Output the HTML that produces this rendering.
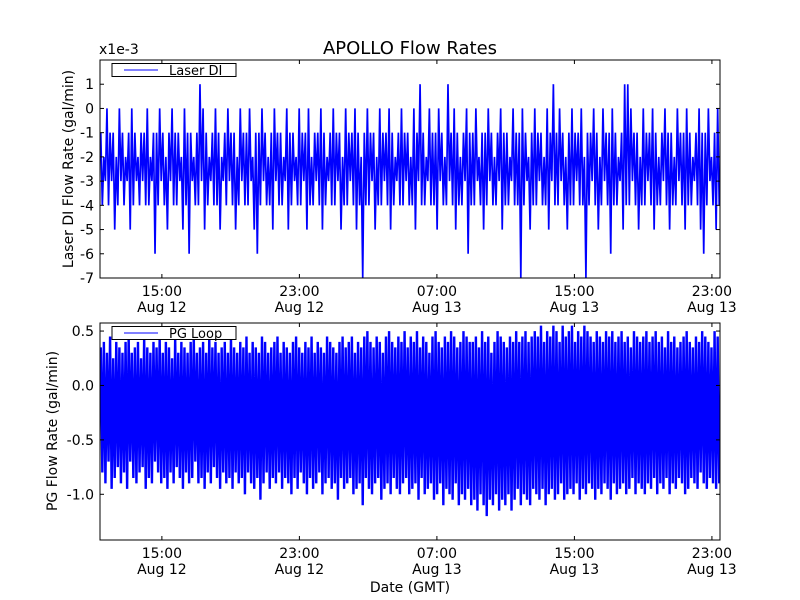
<!DOCTYPE html>
<html><head><meta charset="utf-8"><style>
html,body{margin:0;padding:0;background:#fff;}
svg{display:block;font-family:"DejaVu Sans","Liberation Sans",sans-serif;}
</style></head><body>
<svg id="c" width="800" height="600" viewBox="0 0 800 600">
<rect width="800" height="600" fill="#fff"/>
<text x="410" y="54" font-size="18" text-anchor="middle">APOLLO Flow Rates</text>
<text x="99" y="54" font-size="14">x1e-3</text>
<text transform="translate(73,169) rotate(-90)" font-size="14" text-anchor="middle">Laser DI Flow Rate (gal/min)</text>
<text transform="translate(57,431) rotate(-90)" font-size="14" text-anchor="middle">PG Flow Rate (gal/min)</text>
<text x="410" y="592" font-size="14" text-anchor="middle">Date (GMT)</text>
<g id="top"></g>
<g id="bot"></g>
</svg>
<script>
const topHigh = [
-1,-2,0,-1,-1,-2,0,-1,-2,-1,0,-1,-2,-1,-1,0,-2,-1,-1,0,
-1,-2,-1,0,-1,-1,-2,0,-1,-1,-2,-1,1,0,-1,-2,-1,0,-1,-2,
-1,0,-1,-1,-2,0,-1,-1,0,-2,-1,-1,0,-1,-2,-1,0,-1,-1,-2,
0,-1,-1,-2,0,-1,-1,0,-2,-1,-1,0,-1,-2,-1,0,-1,-1,-2,0,
-1,-1,0,-1,-2,-1,0,-1,-1,-2,0,-1,-1,0,-1,-2,-1,0,-1,-1,
-2,0,-1,1,-1,-2,0,-1,-1,0,-1,-2,1,-1,0,-1,-2,-1,0,-1,
-1,0,-2,-1,-1,0,-1,-2,-1,0,-1,-1,-2,0,-1,-1,0,-1,-2,-1,
0,-1,-1,-2,0,-1,1,-1,0,-1,-2,-1,0,-1,-1,0,-2,-1,-1,0,
-1,-2,0,-1,-1,0,-1,-2,-1,1,1,0,-1,-1,-2,0,-1,-1,0,-1,
-2,-1,0,-1,-1,-2,0,-1,-1,0,-1,-2,-1,0,-1,-1,0,-2,-1,0];
const topLow = [
-4,-3,-4,-3,-5,-4,-3,-4,-3,-5,-4,-3,-4,-3,-4,-4,-3,-6,-4,-3,
-4,-5,-3,-4,-4,-3,-5,-4,-6,-3,-4,-4,-3,-5,-4,-3,-4,-4,-5,-3,
-4,-3,-4,-5,-4,-3,-4,-4,-3,-5,-6,-4,-3,-4,-4,-5,-3,-4,-4,-3,
-5,-4,-3,-4,-4,-3,-5,-4,-4,-3,-4,-5,-4,-3,-4,-4,-3,-5,-4,-4,
-3,-4,-5,-4,-7,-4,-4,-3,-5,-4,-4,-3,-4,-5,-4,-3,-4,-4,-3,-4,
-4,-5,-3,-4,-4,-3,-4,-4,-5,-3,-4,-4,-3,-4,-5,-4,-4,-3,-6,-4,
-4,-3,-4,-5,-4,-3,-4,-4,-3,-5,-4,-4,-3,-4,-4,-7,-4,-3,-5,-4,
-4,-3,-4,-4,-5,-3,-4,-4,-3,-4,-5,-4,-4,-3,-4,-4,-7,-4,-3,-4,
-5,-4,-3,-4,-6,-4,-4,-3,-5,-4,-4,-3,-4,-5,-4,-4,-3,-4,-5,-4,
-4,-3,-4,-5,-4,-4,-3,-4,-5,-4,-4,-3,-4,-5,-6,-4,-3,-4,-5,-4];
const botHigh = [
0.35,0.4,0.3,0.45,0.25,0.4,0.35,0.3,0.4,0.45,0.3,0.35,0.4,0.25,0.45,0.35,0.3,0.4,0.35,0.45,
0.3,0.4,0.35,0.25,0.45,0.3,0.4,0.35,0.3,0.4,0.45,0.3,0.35,0.4,0.3,0.45,0.35,0.4,0.3,0.35,
0.4,0.3,0.45,0.35,0.3,0.4,0.35,0.45,0.3,0.4,0.35,0.3,0.45,0.4,0.3,0.35,0.4,0.45,0.3,0.4,
0.35,0.3,0.4,0.45,0.35,0.3,0.4,0.35,0.45,0.3,0.4,0.35,0.3,0.45,0.4,0.35,0.3,0.4,0.45,0.35,
0.4,0.45,0.3,0.4,0.35,0.45,0.5,0.4,0.35,0.45,0.4,0.3,0.45,0.5,0.4,0.35,0.45,0.4,0.5,0.35,
0.45,0.4,0.5,0.35,0.45,0.4,0.3,0.45,0.5,0.4,0.35,0.45,0.4,0.5,0.45,0.35,0.4,0.5,0.45,0.4,
0.4,0.45,0.35,0.5,0.4,0.45,0.3,0.4,0.5,0.45,0.4,0.35,0.45,0.4,0.5,0.4,0.45,0.5,0.4,0.45,
0.5,0.45,0.55,0.4,0.5,0.45,0.55,0.5,0.4,0.55,0.45,0.5,0.55,0.4,0.5,0.45,0.55,0.5,0.45,0.4,
0.5,0.45,0.4,0.5,0.45,0.5,0.4,0.45,0.5,0.4,0.45,0.35,0.5,0.45,0.4,0.45,0.5,0.4,0.45,0.5,
0.4,0.45,0.35,0.5,0.4,0.45,0.35,0.4,0.45,0.5,0.4,0.35,0.45,0.4,0.5,0.45,0.4,0.35,0.5,0.45];
const botLow = [
-0.8,-0.9,-0.7,-0.95,-0.85,-0.75,-0.9,-0.8,-0.95,-0.7,-0.85,-0.9,-0.8,-0.75,-0.95,-0.85,-0.9,-0.7,-0.8,-0.9,
-0.85,-0.95,-0.8,-0.9,-0.75,-0.85,-0.95,-0.8,-0.9,-0.85,-0.7,-0.9,-0.85,-0.95,-0.8,-0.9,-0.75,-0.85,-0.95,-0.8,
-0.9,-0.85,-0.95,-0.8,-0.9,-0.85,-1.0,-0.8,-0.9,-0.95,-0.85,-1.05,-0.9,-0.8,-0.95,-0.85,-0.9,-0.8,-0.95,-0.85,
-0.9,-1.0,-0.85,-0.95,-0.8,-0.9,-1.0,-0.85,-0.95,-0.9,-0.8,-1.0,-0.9,-0.85,-0.95,-0.9,-1.05,-0.85,-0.95,-0.9,
-0.85,-1.0,-0.95,-0.9,-1.1,-0.85,-0.95,-1.0,-0.9,-0.85,-1.05,-0.95,-0.9,-1.0,-0.85,-0.95,-1.0,-0.9,-0.85,-1.0,
-0.95,-0.9,-1.05,-0.85,-1.0,-0.95,-0.9,-1.05,-1.0,-0.9,-1.1,-0.95,-1.0,-1.05,-0.9,-1.1,-1.0,-1.05,-0.95,-1.1,
-1.05,-1.15,-1.0,-1.1,-1.2,-1.05,-1.1,-1.0,-1.15,-1.05,-1.1,-1.0,-1.15,-1.05,-0.95,-1.1,-1.0,-1.05,-1.1,-0.95,
-1.0,-1.05,-0.95,-1.1,-1.0,-0.95,-1.05,-1.0,-0.9,-1.05,-1.0,-0.95,-1.0,-0.9,-1.05,-0.95,-1.0,-0.9,-0.95,-1.05,
-0.95,-1.0,-0.9,-0.95,-1.05,-0.9,-1.0,-0.95,-0.9,-1.0,-0.95,-0.85,-1.0,-0.9,-0.95,-1.0,-0.9,-0.95,-0.85,-1.0,
-0.9,-0.95,-0.85,-1.0,-0.9,-0.95,-0.85,-0.9,-1.0,-0.95,-0.85,-0.9,-0.95,-0.8,-0.9,-0.95,-0.85,-0.9,-0.95,-0.9];
const topYTicks = [1,0,-1,-2,-3,-4,-5,-6,-7];
const topYTickLabels = ["1","0","-1","-2","-3","-4","-5","-6","-7"];
const botYTicks = [0.5,0.0,-0.5,-1.0];
const botYTickLabels = ["0.5","0.0","-0.5","-1.0"];
const xTickHours = [15,23,31,39,47];
const xTickTimes = ["15:00","23:00","07:00","15:00","23:00"];
const xTickDates = ["Aug 12","Aug 12","Aug 13","Aug 13","Aug 13"];
const xStartHour = 11.4, xEndHour = 47.47;

const NS="http://www.w3.org/2000/svg";
function mk(tag,attrs,parent){const e=document.createElementNS(NS,tag);for(const k in attrs)e.setAttribute(k,attrs[k]);parent.appendChild(e);return e;}
const X0=100,X1=720;
function xScale(h){return X0+(h-xStartHour)/(xEndHour-xStartHour)*(X1-X0);}

function panel(g,Y0,Y1,ymin,ymax,hi,lo,sw,yt,ytl,legend,nm){
  const ys=v=>Y1-(v-ymin)/(ymax-ymin)*(Y1-Y0);
  const n=hi.length;
  const bw=(X1-X0)/n;
  let d="";
  for(let i=0;i<n;i++){
    const h=xStartHour+(i+0.5)*(xEndHour-xStartHour)/n;
    const x=xScale(h);
    d+=(i?"L":"M")+(x-bw/4).toFixed(2)+","+ys(hi[i]).toFixed(1)+"L"+(x+bw/4).toFixed(2)+","+ys(lo[i]).toFixed(1);
  }
  const cp=mk("clipPath",{id:"cp"+nm},g);mk("rect",{x:X0,y:Y0,width:X1-X0,height:Y1-Y0},cp);
  const p=mk("path",{d:d,fill:"none",stroke:"#0000ff","stroke-width":sw,"stroke-linejoin":"bevel","clip-path":"url(#cp"+nm+")"},g);
  
  
  yt.forEach((v,i)=>{const y=ys(v);
    mk("line",{x1:X0,x2:X0+4,y1:y,y2:y,stroke:"#000"},g);mk("line",{x1:X1-4,x2:X1,y1:y,y2:y,stroke:"#000"},g);
    const t=mk("text",{x:X0-6,y:y+5,"font-size":14,"text-anchor":"end"},g);t.textContent=ytl[i];
    
    
  });
  xTickHours.forEach((h,i)=>{const x=xScale(h);
    mk("line",{x1:x,x2:x,y1:Y1,y2:Y1-4,stroke:"#000"},g);mk("line",{x1:x,x2:x,y1:Y0,y2:Y0+4,stroke:"#000"},g);
    const t=mk("text",{x:x,y:Y1+18,"font-size":14,"text-anchor":"middle"},g);t.textContent=xTickTimes[i];
    
    
    const t2=mk("text",{x:x,y:Y1+34,"font-size":14,"text-anchor":"middle"},g);t2.textContent=xTickDates[i];
    
    
  });
  const fr=mk("rect",{x:X0,y:Y0,width:X1-X0,height:Y1-Y0,fill:"none",stroke:"#000","stroke-width":1},g);
  
  
  const lg=mk("g",{},g);
  
  
  mk("rect",{x:112,y:Y0+3.5,width:124,height:13,fill:"#fff",stroke:"#000"},lg);
  mk("line",{x1:124,x2:158,y1:Y0+10,y2:Y0+10,stroke:"#0000ff"},lg);
  const lt=mk("text",{x:169,y:Y0+15,"font-size":13},lg);lt.textContent=legend;
}
panel(document.getElementById("top"),60,278,-7,2,topHigh,topLow,1.7,topYTicks,topYTickLabels,"Laser DI","laser-di");
panel(document.getElementById("bot"),323,540,-1.42,0.574,botHigh,botLow,2.4,botYTicks,botYTickLabels,"PG Loop","pg-loop");
</script>
</body></html>
